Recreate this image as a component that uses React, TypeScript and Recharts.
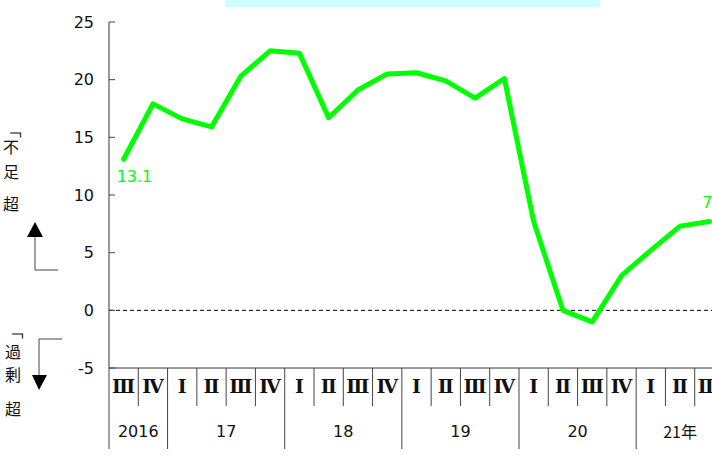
import React from 'react';
import { LineChart, Line, XAxis, YAxis, ReferenceLine, LabelList } from 'recharts';

const QUARTERS = ['Ⅲ', 'Ⅳ', 'Ⅰ', 'Ⅱ', 'Ⅲ', 'Ⅳ', 'Ⅰ', 'Ⅱ', 'Ⅲ', 'Ⅳ', 'Ⅰ', 'Ⅱ', 'Ⅲ', 'Ⅳ', 'Ⅰ', 'Ⅱ', 'Ⅲ', 'Ⅳ', 'Ⅰ', 'Ⅱ', 'Ⅲ'];
const YEAR_LABELS = ['2016', '17', '18', '19', '20', '21年'];
const YEAR_SPANS = [2, 4, 4, 4, 4, 3];
const VALUES = [13.1, 17.9, 16.6, 15.9, 20.3, 22.5, 22.3, 16.7, 19.1, 20.5, 20.6, 19.9, 18.4, 20.1, 7.7, 0.0, -1.0, 3.0, 5.2, 7.3, 7.7];
const Y_TICKS = [-5, 0, 5, 10, 15, 20, 25];

const data = QUARTERS.map((q, i) => ({ idx: i, q, v: VALUES[i] }));

// year group start indices
const YEAR_STARTS: number[] = [];
{
  let s = 0;
  for (const span of YEAR_SPANS) {
    YEAR_STARTS.push(s);
    s += span;
  }
}

const CHART_W = 724;
const CHART_H = 462;
const MARGIN = { top: 22, right: 0, left: 49, bottom: 14 };
const YAXIS_W = 60;
const XAXIS_H = 80;
const PLOT_LEFT = MARGIN.left + YAXIS_W;
const PLOT_W = CHART_W - PLOT_LEFT - MARGIN.right;
const PLOT_BOTTOM = CHART_H - MARGIN.bottom - XAXIS_H;
const BAND = PLOT_W / QUARTERS.length;

const NUM_FONT = '"DejaVu Sans", sans-serif';
const ROMAN_FONT = '"DejaVu Serif", serif';
const CJK_FONT = '"Noto Sans CJK JP", sans-serif';
const GREEN = '#00ff00';

const XTick = (props: any) => {
  const { x, payload } = props;
  const i = payload.index ?? payload.value;
  const left = x - BAND / 2;
  const yStartIdx = YEAR_STARTS.indexOf(i);
  const isYearStart = yStartIdx >= 0;
  return (
    <g>
      <line x1={left} x2={left} y1={PLOT_BOTTOM} y2={isYearStart ? PLOT_BOTTOM + 81 : PLOT_BOTTOM + 38} stroke="#444" strokeWidth={1} />
      <text x={x} y={PLOT_BOTTOM + 18} textAnchor="middle" dominantBaseline="central" fontFamily={ROMAN_FONT} fontSize={19} fontWeight="bold" fill="#111">
        {QUARTERS[i]}
      </text>
      {isYearStart && (
        <text x={left + (YEAR_SPANS[yStartIdx] * BAND) / 2} y={PLOT_BOTTOM + 63} textAnchor="middle" dominantBaseline="central" fontFamily={yStartIdx === YEAR_LABELS.length - 1 ? CJK_FONT : NUM_FONT} fontSize={16} fill="#111">
          {YEAR_LABELS[yStartIdx]}
        </text>
      )}
    </g>
  );
};

const YTick = (props: any) => {
  const { y, payload } = props;
  const axisX = PLOT_LEFT;
  return (
    <g>
      <line x1={axisX} x2={axisX + 6} y1={y} y2={y} stroke="#444" strokeWidth={1} />
      <text x={axisX - 15} y={y} textAnchor="end" dominantBaseline="central" fontFamily={NUM_FONT} fontSize={16} fill="#111">
        {payload.value}
      </text>
    </g>
  );
};

const EndLabel = (props: any) => {
  const { x, y, value, index } = props;
  if (index === 0) {
    return (
      <text x={x - 7} y={y + 17} textAnchor="start" dominantBaseline="central" fontFamily={NUM_FONT} fontSize={16} fill={GREEN}>
        {value.toFixed(1)}
      </text>
    );
  }
  if (index === VALUES.length - 1) {
    return (
      <text x={x - 7} y={y - 19} textAnchor="start" dominantBaseline="central" fontFamily={NUM_FONT} fontSize={16} fill={GREEN}>
        {value.toFixed(1)}
      </text>
    );
  }
  return null;
};

export default function App() {
  return (
    <div style={{ position: 'fixed', left: 0, top: 0, width: 712, height: 462, overflow: 'hidden', background: '#fff' }}>
      <div style={{ position: 'absolute', left: 0, top: 0 }}>
        <LineChart width={CHART_W} height={CHART_H} data={data} margin={MARGIN}>
          <XAxis
            dataKey="idx"
            type="category"
            scale="band"
            height={XAXIS_H}
            axisLine={{ stroke: '#333' }}
            tickLine={false}
            tick={<XTick />}
            interval={0}
            padding={{ left: 0, right: 0 }}
          />
          <YAxis
            width={YAXIS_W}
            domain={[-5, 25]}
            ticks={Y_TICKS}
            type="number"
            axisLine={{ stroke: '#333' }}
            tickLine={false}
            tick={<YTick />}
            interval={0}
          />
          <ReferenceLine y={0} stroke="#000" strokeDasharray="4 3" strokeWidth={1} />
          <Line
            dataKey="v"
            stroke={GREEN}
            strokeWidth={5}
            dot={false}
            strokeLinejoin="round"
            strokeLinecap="round"
            isAnimationActive={false}
          >
            <LabelList dataKey="v" content={<EndLabel />} />
          </Line>
        </LineChart>
      </div>
      <svg width={712} height={462} style={{ position: 'absolute', left: 0, top: 0, pointerEvents: 'none' }}>
        <rect x={225} y={0} width={375} height={7} fill="#ccffff" />
        <g fontFamily={CJK_FONT} fontSize={16} fill="#111" textAnchor="middle" dominantBaseline="central">
          <text x={14} y={130} transform="rotate(90 14 130)">「</text>
          <text x={11} y={146}>不</text>
          <text x={11} y={171}>足</text>
          <text x={11} y={203}>超</text>
          <text x={16} y={331} transform="rotate(90 16 331)">「</text>
          <text x={13} y={351}>過</text>
          <text x={13} y={374}>剰</text>
          <text x={13} y={408}>超</text>
        </g>
        <polyline points="58,270 35,270 35,236" fill="none" stroke="#444" strokeWidth={1} />
        <polygon points="35,222 27,237 43,237" fill="#000" />
        <polyline points="62,339 39,339 39,376" fill="none" stroke="#444" strokeWidth={1} />
        <polygon points="32,375 47,375 39,390" fill="#000" />
      </svg>
    </div>
  );
}
